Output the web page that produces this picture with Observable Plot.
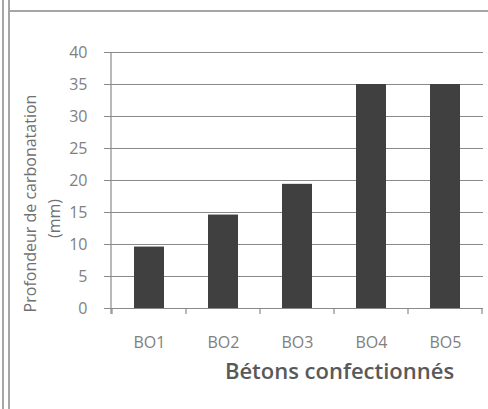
<!DOCTYPE html>
<html>
<head>
<meta charset="utf-8">
<script src="https://cdn.jsdelivr.net/npm/d3@7"></script>
<script src="https://cdn.jsdelivr.net/npm/@observablehq/plot@0.6"></script>
<style>
  html, body { margin: 0; padding: 0; background: #fff; }
  #wrap { position: relative; width: 488px; height: 409px; overflow: hidden; }
  .vl { position: absolute; top: 0; bottom: 0; width: 0; border-left: 2px solid #a6a6a6; }
  .hl { position: absolute; left: 9px; right: 0; height: 0; top: 10px; border-top: 2px solid #a6a6a6; }
  svg { position: absolute; left: 0; top: 0; }
</style>
</head>
<body>
<div id="wrap">
  <div class="vl" style="left:2px"></div>
  <div class="vl" style="left:8px"></div>
  <div class="hl"></div>
</div>
<script>
const categories = ["BO1", "BO2", "BO3", "BO4", "BO5"];
const values = [9.6, 14.6, 19.4, 35, 35];
const yTicks = [0, 5, 10, 15, 20, 25, 30, 35, 40];
const yLabel1 = "Profondeur de carbonatation";
const yLabel2 = "(mm)";
const xLabel = "Bétons confectionnés";

const data = categories.map((c, i) => ({cat: c, val: values[i]}));
const gridColor = "#8a8a8a";
const font = "'Open Sans', sans-serif";

const plot = Plot.plot({
  width: 488,
  height: 409,
  marginTop: 52,
  marginRight: 5,
  marginBottom: 101,
  marginLeft: 111,
  style: {background: "transparent", fontFamily: font},
  x: {domain: categories, paddingInner: 0.6, paddingOuter: 0.3, axis: null},
  y: {domain: [0, 40], axis: null},
  marks: [
    Plot.ruleY(yTicks, {stroke: gridColor, strokeWidth: 1.2, insetLeft: -7}),
    Plot.barY(data, {x: "cat", y: "val", fill: "#404040"}),
    Plot.text(yTicks, {y: d => d, text: d => String(d), frameAnchor: "left", textAnchor: "end", dx: -24, fill: "#808080", fontSize: 16, letterSpacing: 1}),
    Plot.text(categories, {x: d => d, text: d => d, frameAnchor: "bottom", dy: 39, fill: "#808080", fontSize: 16, letterSpacing: 2}),
    Plot.text([xLabel], {text: d => d, frameAnchor: "bottom", textAnchor: "middle", dx: 42, dy: 70, fill: "#595959", fontSize: 22, fontWeight: 600, letterSpacing: 0.7}),
    Plot.text([yLabel1], {text: d => d, frameAnchor: "left", textAnchor: "middle", rotate: -90, dx: -81, dy: 23, fill: "#707070", fontSize: 16, letterSpacing: 0.5}),
    Plot.text([yLabel2], {text: d => d, frameAnchor: "left", textAnchor: "middle", rotate: -90, dx: -57, dy: 38, fill: "#707070", fontSize: 16, letterSpacing: 0.5})
  ]
});

// axis lines and category boundary ticks from the plot's own scales
const xs = plot.scale("x");
const ys = plot.scale("y");
const svg = d3.select(plot);
const y0 = ys.apply(0);
const yTop = ys.apply(40);
const left = xs.range[0];
const gap = (xs.step - xs.bandwidth) / 2;
const bounds = categories.map(c => xs.apply(c) - gap).concat([xs.apply(categories[categories.length - 1]) + xs.bandwidth + gap]);
const g = svg.append("g").attr("stroke", gridColor).attr("stroke-width", 1.2);
g.append("line").attr("x1", left).attr("x2", left).attr("y1", yTop).attr("y2", y0 + 6);
g.selectAll("line.t").data(bounds).join("line").attr("class", "t")
  .attr("x1", d => d).attr("x2", d => d).attr("y1", y0).attr("y2", y0 + 6);

document.getElementById("wrap").appendChild(plot);
</script>
</body>
</html>
